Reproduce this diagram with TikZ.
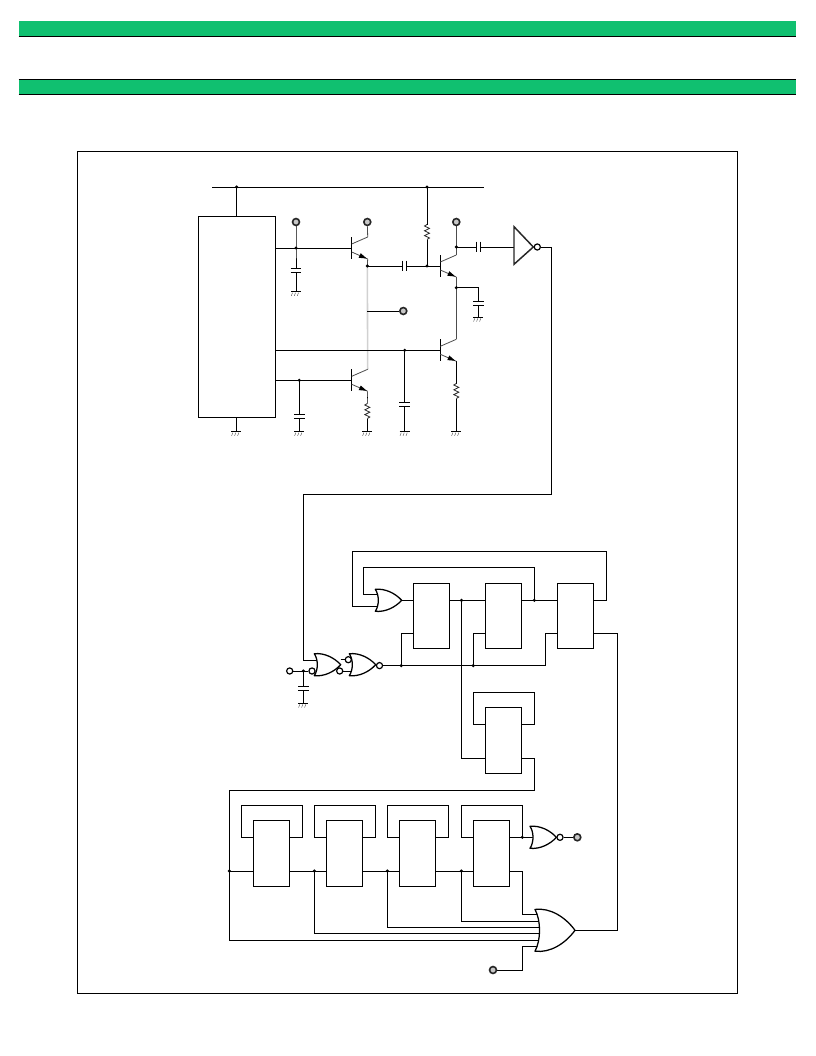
\documentclass[tikz,border=0pt]{standalone}
\usetikzlibrary{backgrounds}
\definecolor{barGreen}{HTML}{10C070}
\tikzset{
  wire/.style={line width=.95pt,line join=miter},
  thinlead/.style={line width=.6pt,draw=black!70},
  greyrun/.style={line width=1.2pt,draw=black!18},
  fbox/.style={draw,line width=.95pt,minimum width=27.3pt,minimum height=49.2pt,inner sep=0pt},
  icbox/.style={draw,line width=.95pt,minimum width=58pt,minimum height=151pt,inner sep=0pt},
  junct/.style={circle,fill=black,inner sep=0pt,minimum size=2.6pt},
  termi/.style={circle,draw=black!85,fill=black!22,line width=1.2pt,inner sep=0pt,minimum size=5.2pt},
  bubble/.style={circle,draw,fill=white,line width=.9pt,inner sep=0pt,minimum size=4.6pt},
  pics/gnd/.style={code={
    \draw[line width=.95pt] (-5,0) -- (5,0);
    \foreach \q in {-3.5,-.5,2.5}{\draw[line width=.3pt,black!70] (\q,1) -- (\q-1.2,4.2);}
    \coordinate (-t) at (0,0);
  }},
  pics/capv/.style={code={
    \draw[line width=.95pt] (-5.3,-2) -- (5.3,-2) (-5.3,2) -- (5.3,2);
    \coordinate (-t) at (0,-2); \coordinate (-b) at (0,2);
  }},
  pics/caph/.style={code={
    \draw[line width=.95pt] (-2,-5.3) -- (-2,5.3) (2,-5.3) -- (2,5.3);
    \coordinate (-l) at (-2,0); \coordinate (-r) at (2,0);
  }},
  pics/resv/.style={code={
    \draw[line width=.6pt,black!85] (0,-7.5) -- (-2.5,-6) -- (2.5,-3.6) -- (-2.5,-1.2) -- (2.5,1.2) -- (-2.5,3.6) -- (2.5,6) -- (0,7.5);
    \coordinate (-t) at (0,-7.5); \coordinate (-b) at (0,7.5);
  }},
  pics/npn/.style={code={
    \draw[line width=.95pt] (0,-11) -- (0,11);
    \draw[thinlead] (0,-4) -- (16,-11);
    \draw[thinlead] (0,4) -- (16,11);
    \fill[black] (15,10.5) -- (9.04,5.23) -- (6.96,9.77) -- cycle;
    \coordinate (-b) at (0,0); \coordinate (-c) at (16,-11); \coordinate (-e) at (16,11);
  }},
  pics/orgate/.style={code={
    \draw[line width=.95pt,fill=white,line join=round] (0,-11) .. controls (10,-12) and (20,-7) .. (26.4,0)
       .. controls (20,7) and (10,12) .. (0,11) .. controls (4,5) and (4,-5) .. (0,-11) -- cycle;
    \coordinate (-i) at (3,0); \coordinate (-o) at (26.4,0);
  }},
  pics/inverter/.style={code={
    \draw[line width=1.1pt,fill=white,line join=miter,draw=black!85] (0,-20.3) -- (19.3,0) -- (0,17.3) -- cycle;
    \coordinate (-i) at (0,0); \coordinate (-o) at (19.3,0);
  }}
}
\begin{document}
\begin{tikzpicture}[x=.75pt,y=-.75pt,wire]
\useasboundingbox (0,0) rectangle (816,1056);

% --- header bars and frame
\fill[barGreen] (18.5,21) rectangle (796,36.5);
\draw[line width=1pt] (18.5,36.7) -- (796,36.7);
\fill[barGreen] (18.5,79.5) rectangle (796,94.5);
\draw[line width=1pt] (18.5,79.5) -- (796,79.5) (18.5,94.7) -- (796,94.7);
\node[draw,line width=.95pt,minimum width=495pt,minimum height=631.5pt,inner sep=0pt] (frame) at (407.5,572.4) {};

% --- top analogue section: parts
\coordinate (busL) at (212,187); \coordinate (busR) at (484,187);
\node[icbox] (IC) at (236.8,316.8) {};
\node[junct] (Jv1) at (236.7,187) {};
\node[junct] (Jv2) at (427,187) {};
\node[termi] (P1) at (296,222) {};
\node[termi] (P2) at (367.3,222) {};
\node[termi] (P3) at (456.3,222) {};
\node[termi] (P4) at (403.3,311) {};
\node[junct] (J1) at (296,248) {};
\node[junct] (J2) at (367.3,266) {};
\node[junct] (J3) at (427,266) {};
\node[junct] (J4) at (299.3,380.3) {};
\node[junct] (J5) at (404.7,350.3) {};
\node[junct] (J6) at (456.3,247) {};
\node[junct] (J7) at (456.3,287.7) {};
\pic (Q1) at (351.7,248) {npn};
\pic (Q2) at (351.7,380.3) {npn};
\pic (Q3) at (440.3,266) {npn};
\pic (Q4) at (440.3,350.3) {npn};
\pic (C1) at (296,270.5) {capv};
\pic (C2) at (299.3,416.3) {capv};
\pic (C3) at (404.7,404.3) {capv};
\pic (C4) at (478.3,303.5) {capv};
\pic (C5) at (404.5,266) {caph};
\pic (C6) at (478.5,247) {caph};
\pic (R1) at (427,232) {resv};
\pic (R2) at (367.3,411) {resv};
\pic (R3) at (456.3,391) {resv};
\pic (G0) at (236.3,431.7) {gnd};
\pic (G1) at (296,291.7) {gnd};
\pic (G2) at (299.3,431.7) {gnd};
\pic (G3) at (367.3,431.7) {gnd};
\pic (G4) at (404.7,431.7) {gnd};
\pic (G5) at (456.3,431.7) {gnd};
\pic (G6) at (478.3,317.3) {gnd};
\pic (INV) at (514,247) {inverter};
\node[bubble] (INVb) at (537.3,247) {};

% --- flip-flops
\node[fbox] (F1) at (431.5,616) {};
\node[fbox] (F2) at (503.5,616) {};
\node[fbox] (F3) at (575.5,616) {};
\node[fbox] (F4) at (503.5,740.5) {};
\node[fbox] (F5) at (271.5,853.5) {};
\node[fbox] (F6) at (344.5,853.5) {};
\node[fbox] (F7) at (417.5,853.5) {};
\node[fbox] (F8) at (491.5,853.5) {};

% --- gates
\pic (U1) at (375.3,600.3) {orgate};
\pic (U2) at (314.3,664.7) {orgate};
\pic (U3) at (349.3,664.7) {orgate};
\pic (U4) at (530,837.3) {orgate};
\pic[xscale=1.515,yscale=1.9] (U5) at (535,930.3) {orgate};
\node[bubble] (U2a) at (312,671) {};
\node[bubble] (U2b) at (339.7,671) {};
\node[bubble] (U3a) at (348.3,659.7) {};
\node[bubble] (U3o) at (379.5,665.6) {};
\node[bubble] (U4o) at (560,837.3) {};
\node[bubble] (Pin) at (289.7,671) {};
\node[termi] (P5) at (577.3,837.3) {};
\node[termi] (P6) at (493,970) {};
\node[junct] (J8) at (303.3,671) {};
\pic (C7) at (303.3,688.7) {capv};
\pic (G7) at (303.3,703.3) {gnd};
\node[junct] (K1) at (461.5,600.3) {};
\node[junct] (K2) at (534.3,600.3) {};
\node[junct] (K3) at (401.3,665.6) {};
\node[junct] (K4) at (473.3,665.6) {};
\node[junct] (L1) at (229.3,871) {};
\node[junct] (L2) at (314.3,871) {};
\node[junct] (L3) at (387.3,871) {};
\node[junct] (L4) at (461.3,871) {};
\node[junct] (L5) at (522.3,837.3) {};

\begin{scope}[on background layer]
% --- top section connectors
\draw (busL) -- (busR);
\draw (Jv1.center) -- (IC.north -| Jv1);
\draw (IC.south -| G0-t) -- (G0-t);
\draw (P1) -- (J1.center) -- (C1-t);
\draw (C1-b) -- (G1-t);
\draw (IC.east |- Q1-b) -- (Q1-b);
\draw[thinlead] (P2) -- (Q1-c);
\draw[thinlead] (Q1-e) -- (J2.center);
\draw[greyrun] (J2.center) -- (Q2-c);
\draw (J2.center) -- (C5-l);
\draw (C5-r) -- (Q3-b);
\draw (Jv2.center) -- (R1-t);
\draw (R1-b) -- (J3.center);
\draw (J2.center |- P4) -- (P4);
\draw (IC.east |- Q4-b) -- (Q4-b);
\draw (J5.center) -- (C3-t);
\draw (C3-b) -- (G4-t);
\draw (IC.east |- Q2-b) -- (Q2-b);
\draw (J4.center) -- (C2-t);
\draw (C2-b) -- (G2-t);
\draw (Q2-e) -- (R2-t);
\draw (R2-b) -- (G3-t);
\draw[draw=black!70] (P3) -- (J6.center);
\draw[thinlead] (J6.center) -- (Q3-c);
\draw (J6.center) -- (C6-l);
\draw (C6-r) -- (INV-i);
\draw[draw=black!70] (Q3-e) -- (J7.center) -- (Q4-c);
\draw (J7.center) -| (C4-t);
\draw (C4-b) -- (G6-t);
\draw (Q4-e) -- (R3-t);
\draw (R3-b) -- (G5-t);
% --- long link to the logic
\draw (INVb.east) -- (551.7,247) -- (551.7,494) -- (303.3,494) -- (303.3,660.3) -- (U2-i |- 0,660.3);
% --- reset / clock gates
\draw (Pin) -- (U2a);
\draw (J8.center) -- (C7-t);
\draw (C7-b) -- (G7-t);
\draw (U2-o |- U3a) -- (U3a);
\draw (U2b) -- (U3-i |- U2b);
\draw (U3o) -- (545.3,665.6) -- (545.3,633.7) -- (F3.west |- 0,633.7);
\draw (K3.center) -- (401.3,633.7) -- (F1.west |- 0,633.7);
\draw (K4.center) -- (473.3,633.7) -- (F2.west |- 0,633.7);
% --- first counter row
\draw (U1-o) -- (F1.west |- U1-o);
\draw (F1.east |- U1-o) -- (F2.west |- U1-o);
\draw (F2.east |- U1-o) -- (F3.west |- U1-o);
\draw (F3.east |- U1-o) -- (606.3,600.3) -- (606.3,551.3) -- (352.3,551.3) -- (352.3,606.3) -- (U1-i |- 0,606.3);
\draw (K2.center) -- (534.3,567.3) -- (363.3,567.3) -- (363.3,594.3) -- (U1-i |- 0,594.3);
\draw (F3.east |- 0,633.7) -- (617.3,633.7) -- (617.3,930.3) -- (U5-o);
% --- middle flip-flop
\draw (K1.center) -- (461.5,758.3) -- (F4.west |- 0,758.3);
\draw (F4.west |- 0,724.3) -- (473.3,724.3) -- (473.3,692.3) -- (534.3,692.3) -- (534.3,724.3) -- (F4.east |- 0,724.3);
\draw (F4.east |- 0,758.3) -- (534.3,758.3) -- (534.3,790.3) -- (229.3,790.3) -- (229.3,940.3) -- (U5-i |- 0,940.3);
% --- lower counter row
\draw (L1.center) -- (F5.west |- L1);
\draw (F5.east |- L1) -- (F6.west |- L1);
\draw (F6.east |- L1) -- (F7.west |- L1);
\draw (F7.east |- L1) -- (F8.west |- L1);
\draw (F5.west |- 0,837.3) -- (241.3,837.3) -- (241.3,805.3) -- (302.3,805.3) -- (302.3,837.3) -- (F5.east |- 0,837.3);
\draw (F6.west |- 0,837.3) -- (314.3,837.3) -- (314.3,805.3) -- (375.3,805.3) -- (375.3,837.3) -- (F6.east |- 0,837.3);
\draw (F7.west |- 0,837.3) -- (387.3,837.3) -- (387.3,805.3) -- (448.3,805.3) -- (448.3,837.3) -- (F7.east |- 0,837.3);
\draw (F8.west |- 0,837.3) -- (461.3,837.3) -- (461.3,805.3) -- (522.3,805.3) -- (L5.center);
\draw (F8.east |- 0,837.3) -- (U4-i);
\draw (U4o) -- (P5);
% --- inputs of the large gate
\draw (F8.east |- L1) -- (522.3,871) -- (522.3,914.3) -- (U5-i |- 0,914.3);
\draw (L4.center) -- (461.3,921.3) -- (U5-i |- 0,921.3);
\draw (L3.center) -- (387.3,927.3) -- (U5-i |- 0,927.3);
\draw (L2.center) -- (314.3,933.3) -- (U5-i |- 0,933.3);
\draw (P6) -- (522.3,970) -- (522.3,946) -- (U5-i |- 0,946);
\end{scope}
\end{tikzpicture}
\end{document}
